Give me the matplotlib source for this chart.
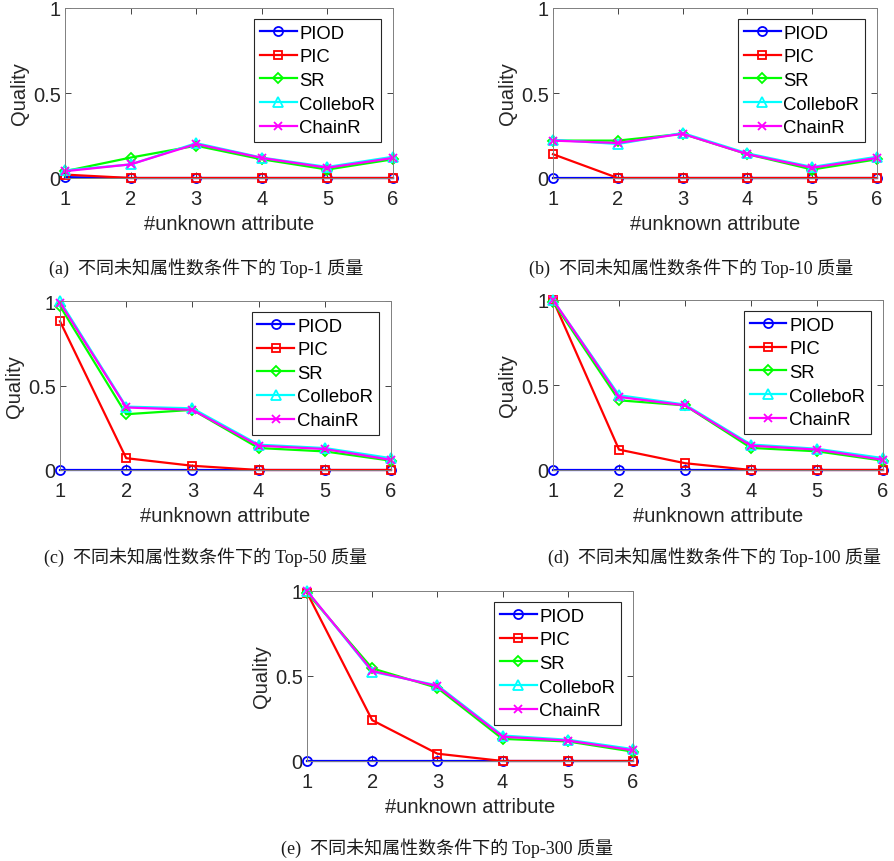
import matplotlib
matplotlib.use("Agg")
import matplotlib.pyplot as plt

x = [1, 2, 3, 4, 5, 6]
methods = ["PIOD", "PIC", "SR", "ColleboR", "ChainR"]
colors = ["#0000ff", "#ff0000", "#00ff00", "#00ffff", "#ff00ff"]
markers = ["o", "s", "D", "^", "x"]
msizes = [6.5, 5.5, 5.5, 7, 5.5]

# Top-1
a_piod = [0.005, 0, 0, 0, 0, 0]
a_pic = [0.02, 0, 0, 0, 0, 0]
a_sr = [0.04, 0.12, 0.19, 0.11, 0.05, 0.11]
a_col = [0.045, 0.08, 0.205, 0.12, 0.065, 0.125]
a_chain = [0.04, 0.08, 0.20, 0.118, 0.06, 0.118]
# Top-10
b_piod = [0, 0, 0, 0, 0, 0]
b_pic = [0.14, 0, 0, 0, 0, 0]
b_sr = [0.22, 0.22, 0.26, 0.14, 0.05, 0.11]
b_col = [0.225, 0.20, 0.265, 0.145, 0.065, 0.125]
b_chain = [0.22, 0.206, 0.26, 0.14, 0.06, 0.118]
# Top-50
c_piod = [0, 0, 0, 0, 0, 0]
c_pic = [0.88, 0.07, 0.025, 0, 0, 0]
c_sr = [0.97, 0.33, 0.356, 0.13, 0.11, 0.055]
c_col = [1.0, 0.375, 0.365, 0.15, 0.13, 0.07]
c_chain = [0.99, 0.37, 0.356, 0.144, 0.124, 0.06]
# Top-100
d_piod = [0, 0, 0, 0, 0, 0]
d_pic = [1.0, 0.12, 0.04, 0, 0, 0]
d_sr = [0.99, 0.41, 0.38, 0.13, 0.11, 0.055]
d_col = [1.0, 0.44, 0.385, 0.15, 0.125, 0.07]
d_chain = [1.0, 0.43, 0.38, 0.143, 0.12, 0.06]
# Top-300
e_piod = [0, 0, 0, 0, 0, 0]
e_pic = [0.99, 0.24, 0.043, 0, 0, 0]
e_sr = [0.99, 0.545, 0.43, 0.13, 0.115, 0.055]
e_col = [1.0, 0.525, 0.445, 0.15, 0.125, 0.07]
e_chain = [1.0, 0.53, 0.44, 0.143, 0.12, 0.063]

panels = [
    ([a_piod, a_pic, a_sr, a_col, a_chain], (65, 9, 393, 179), "(a)  不同未知属性数条件下的 Top-1 质量", (206, 268)),
    ([b_piod, b_pic, b_sr, b_col, b_chain], (553, 9, 877, 179), "(b)  不同未知属性数条件下的 Top-10 质量", (691, 268)),
    ([c_piod, c_pic, c_sr, c_col, c_chain], (60, 302, 391, 471), "(c)  不同未知属性数条件下的 Top-50 质量", (206, 557)),
    ([d_piod, d_pic, d_sr, d_col, d_chain], (553, 301, 883, 471), "(d)  不同未知属性数条件下的 Top-100 质量", (714, 557)),
    ([e_piod, e_pic, e_sr, e_col, e_chain], (307, 592, 633, 762), "(e)  不同未知属性数条件下的 Top-300 质量", (447, 848)),
]

W, H = 894, 862
fig = plt.figure(figsize=(W / 100, H / 100), dpi=100)
fig.patch.set_facecolor("white")

sans = ["Liberation Sans", "DejaVu Sans"]
serif = ["Liberation Serif", "Noto Sans CJK SC", "DejaVu Sans"]
axcol = "#262626"

for series, (l, t, r, b), cap, (cx, cy) in panels:
    ax = fig.add_axes([l / W, (H - b) / H, (r - l) / W, (b - t) / H])
    for vals, name, c, m, ms in zip(series, methods, colors, markers, msizes):
        ax.plot(x, vals, color=c, marker=m, label=name, lw=1.6, ms=ms,
                mfc="none", mec=c, mew=1.3, clip_on=False)
    ax.set_xlim(1, 6)
    ax.set_ylim(0, 1)
    ax.set_xticks(x)
    ax.set_yticks([0, 0.5, 1])
    ax.set_yticklabels(["0", "0.5", "1"])
    ax.tick_params(direction="in", top=True, right=True, labelsize=14.5, colors=axcol,
                   length=4, width=0.6)
    ax.tick_params(axis="x", pad=8)
    ax.tick_params(axis="y", pad=3)
    for lab in ax.get_xticklabels() + ax.get_yticklabels():
        lab.set_fontfamily(sans)
    for sp in ax.spines.values():
        sp.set_color("#808080")
        sp.set_linewidth(0.7)
    ax.set_xlabel("#unknown attribute", fontsize=14.5, family=sans, color=axcol, labelpad=4)
    ax.set_ylabel("Quality", fontsize=14.5, family=sans, color=axcol, labelpad=3)
    leg = ax.legend(loc="upper right", bbox_to_anchor=(0.963, 0.935),
                    prop={"family": sans, "size": 13.3}, handlelength=2.0, handletextpad=0.15,
                    labelspacing=0.36, borderpad=0.3, borderaxespad=0, fancybox=False,
                    framealpha=1, edgecolor="#262626")
    leg.get_frame().set_linewidth(0.8)
    fig.text(cx / W, 1 - cy / H, cap, ha="center", va="center", fontsize=13, family=serif,
             color="#1a1a1a")

fig.savefig("out.png", dpi=100, facecolor="white")
